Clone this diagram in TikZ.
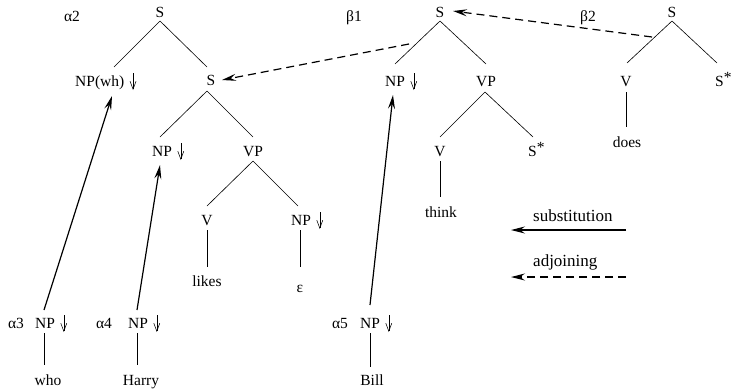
\documentclass[tikz,border=0pt]{standalone}
\usepackage{fontspec}
\setmainfont{Liberation Serif}
\usetikzlibrary{arrows.meta}
\newcommand\dnarrow{\hspace{5.5pt}\smash{\tikz[baseline=0pt]\draw[line width=0.55pt,-{Straight Barb[length=8pt,width=6pt]}] (0pt,13pt) -- (0pt,-4pt);}}
\tikzset{
  lbl/.style={inner sep=0pt, anchor=base, font=\fontsize{15.5}{18}\selectfont},
  lblw/.style={inner sep=0pt, anchor=base west, font=\fontsize{15.5}{18}\selectfont},
  legend/.style={inner sep=0pt, anchor=base west, font=\fontsize{17}{20}\selectfont},
  tree/.style={line width=0.6pt},
  subst/.style={line width=1.2pt, -{Stealth[length=14pt,width=7pt,inset=5pt]}},
  adjoin/.style={line width=1.2pt, dash pattern=on 8pt off 5pt, -{Stealth[length=14pt,width=7pt,inset=5pt]}}
}
\begin{document}
\begin{tikzpicture}[x=1pt,y=-1pt]
\path[use as bounding box] (0,0) rectangle (731,391);
% alpha2
\node[lbl] (la2) at (72,21) {α2};
\node[lbl] (s1) at (160,17) {S};
\node[lblw] (npwh) at (75,86) {NP(wh)\dnarrow};
\node[lbl] (s2) at (211,85) {S};
\node[lblw] (np2) at (152,156) {NP\dnarrow};
\node[lbl] (vp1) at (253,156) {VP};
\node[lbl] (v1) at (207,225) {V};
\node[lblw] (np3) at (291,225) {NP\dnarrow};
\node[lbl] (likes) at (207,286) {likes};
\node[lbl] (eps) at (300,292) {ε};
\draw[tree] ([shift={(0,4)}]s1.base) -- ([shift={(39,-19)}]npwh.base west);
\draw[tree] ([shift={(0,4)}]s1.base) -- ([shift={(-4,-18)}]s2.base);
\draw[tree] ([shift={(-4,6)}]s2.base) -- ([shift={(8,-19)}]np2.base west);
\draw[tree] ([shift={(-4,6)}]s2.base) -- ([shift={(0,-19)}]vp1.base);
\draw[tree] ([shift={(0,5)}]vp1.base) -- ([shift={(0,-19)}]v1.base);
\draw[tree] ([shift={(0,5)}]vp1.base) -- ([shift={(7,-19)}]np3.base west);
\draw[tree] ([shift={(0,5)}]v1.base) -- ([shift={(0,-19)}]likes.base);
\draw[tree] ([shift={(9,5)}]np3.base west) -- ([shift={(0,-25)}]eps.base);
% alpha3, alpha4
\node[lbl] (la3) at (16,328) {α3};
\node[lblw] (npa3) at (35,328) {NP\dnarrow};
\node[lbl] (who) at (48,385) {who};
\draw[tree] ([shift={(9,5)}]npa3.base west) -- ([shift={(-4,-20)}]who.base);
\node[lbl] (la4) at (104,328) {α4};
\node[lblw] (npa4) at (128,328) {NP\dnarrow};
\node[lbl] (harry) at (141,385) {Harry};
\draw[tree] ([shift={(9,5)}]npa4.base west) -- ([shift={(-4,-20)}]harry.base);
% alpha5
\node[lbl] (la5) at (340,328) {α5};
\node[lblw] (npa5) at (360,328) {NP\dnarrow};
\node[lbl] (bill) at (372,385) {Bill};
\draw[tree] ([shift={(10,5)}]npa5.base west) -- ([shift={(-2,-18)}]bill.base);
% beta1
\node[lbl] (lb1) at (354,21) {β1};
\node[lbl] (b1s) at (440,17) {S};
\node[lblw] (npb1) at (385,86) {NP\dnarrow};
\node[lbl] (vpb) at (486,86) {VP};
\node[lbl] (vb) at (440,156) {V};
\node[lblw] (sstar1) at (528,156) {S\raisebox{4pt}{*}};
\node[lbl] (think) at (441,217) {think};
\draw[tree] ([shift={(0,4)}]b1s.base) -- ([shift={(10,-22)}]npb1.base west);
\draw[tree] ([shift={(0,4)}]b1s.base) -- ([shift={(0,-22)}]vpb.base);
\draw[tree] ([shift={(-1,6)}]vpb.base) -- ([shift={(0,-19)}]vb.base);
\draw[tree] ([shift={(-1,6)}]vpb.base) -- ([shift={(5,-19)}]sstar1.base west);
\draw[tree] ([shift={(0,5)}]vb.base) -- ([shift={(-1,-20)}]think.base);
% beta2
\node[lbl] (lb2) at (588,21) {β2};
\node[lbl] (b2s) at (672,17) {S};
\node[lbl] (v2) at (626,86) {V};
\node[lblw] (sstar2) at (715,86) {S\raisebox{4pt}{*}};
\node[lbl] (does) at (627,147) {does};
\draw[tree] ([shift={(0,4)}]b2s.base) -- ([shift={(1,-23)}]v2.base);
\draw[tree] ([shift={(0,4)}]b2s.base) -- ([shift={(2,-23)}]sstar2.base west);
\draw[tree] ([shift={(0,6)}]v2.base) -- ([shift={(-1,-20)}]does.base);
% substitution arrows
\draw[subst] ([shift={(9,-18)}]npa3.base west) -- ([shift={(37,10)}]npwh.base west);
\draw[subst] ([shift={(9,-18)}]npa4.base west) -- ([shift={(8,9)}]np2.base west);
\draw[subst] ([shift={(10,-23)}]npa5.base west) -- ([shift={(8,9)}]npb1.base west);
% adjoining arrows
\draw[adjoin] ([shift={(-31,27)}]b1s.base) -- ([shift={(11,-5)}]s2.base);
\draw[adjoin] ([shift={(-20,20)}]b2s.base) -- ([shift={(13,-6)}]b1s.base);
% legend
\node[legend] (lsub) at (533,221) {substitution};
\node[legend] (ladj) at (533,266) {adjoining};
\coordinate (subA) at (626,230);
\coordinate (subB) at (511,230);
\coordinate (adjA) at (626,277);
\coordinate (adjB) at (511,277);
\draw[subst] (subA) -- (subB);
\draw[adjoin] (adjA) -- (adjB);
\end{tikzpicture}
\end{document}
